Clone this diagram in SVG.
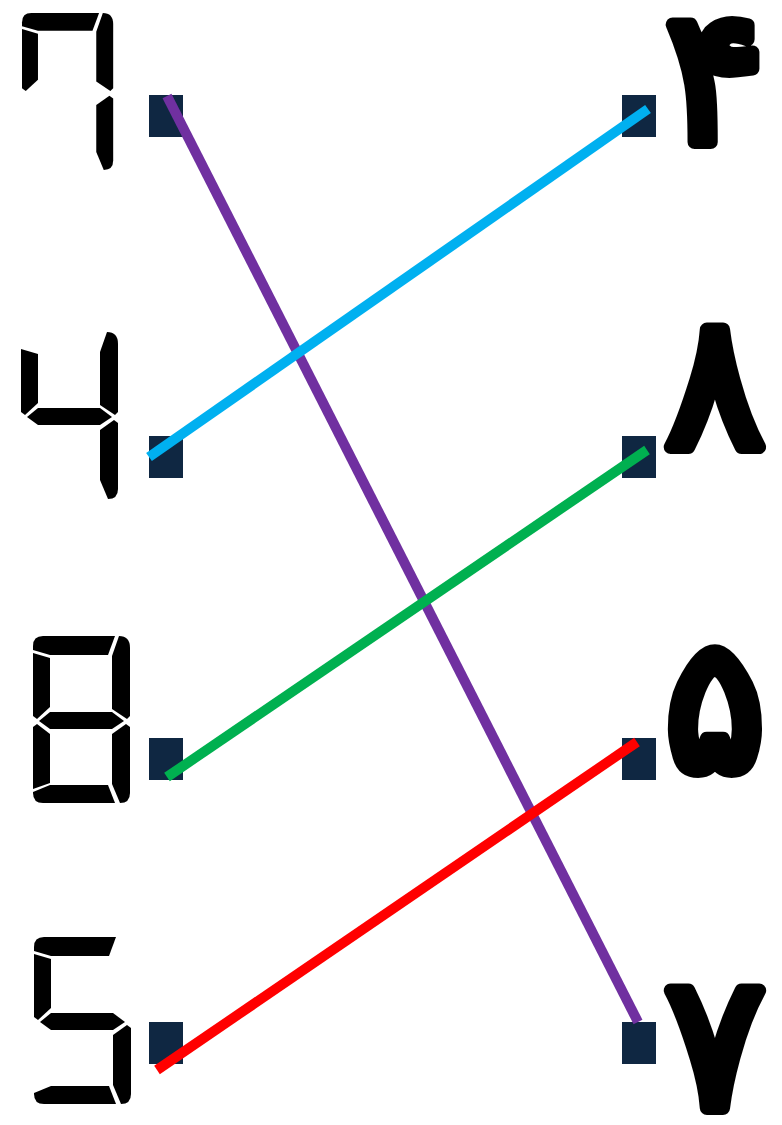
<svg xmlns="http://www.w3.org/2000/svg" width="782" height="1125" viewBox="0 0 782 1125">
<style>
.seg{fill:#000}
.pt{fill:#0f2742}
.fa{font-family:"DejaVu Sans",sans-serif;font-weight:normal;font-size:185px;fill:#000;stroke:#000;stroke-width:14;stroke-linejoin:round;stroke-linecap:round;text-anchor:middle}
.ln{stroke-width:10;fill:none}
</style>
<defs>
<path id="sa" d="M0,14 L0,10 Q0,0 10,0 L82,0 L75,19 L17,19 Z"/>
<path id="sb" d="M86,0 Q97,0 97,12 L97,80 L94,83 L79,73 L79,20 Z"/>
<path id="sf" d="M0,17 L17,22 L17,71 L4,83 L0,80 Z"/>
<path id="sg" d="M6,85 L17,76 L79,76 L91,85 L79,93 L17,93 Z"/>
<path id="se" d="M4,88 L17,98 L17,147 L0,153 L0,91 Z"/>
<path id="sc" d="M93,88 L97,91 L97,157 Q97,167 87,167 L79,148 L79,98 Z"/>
<path id="sd" d="M0,156 L17,149 L75,149 L82,167 L10,167 Q0,167 0,157 Z"/>
</defs>
<rect width="782" height="1125" fill="#fff"/>
<g id="left-7" class="seg" transform="translate(22,13) scale(0.94)">
<use href="#sa"/><use href="#sb"/><use href="#sf"/><use href="#sc"/>
</g>
<g id="left-4" class="seg" transform="translate(21,332)">
<use href="#sf"/><use href="#sg"/><use href="#sb"/><use href="#sc"/>
</g>
<g id="left-8" class="seg" transform="translate(33,636)">
<use href="#sa"/><use href="#sb"/><use href="#sf"/><use href="#sg"/><use href="#se"/><use href="#sc"/><use href="#sd"/>
</g>
<g id="left-5" class="seg" transform="translate(34,937)">
<use href="#sa"/><use href="#sf"/><use href="#sg"/><use href="#sc"/><use href="#sd"/>
</g>
<g id="points">
<rect class="pt" x="149" y="95" width="34" height="42"/>
<rect class="pt" x="149" y="436" width="34" height="42"/>
<rect class="pt" x="149" y="738" width="34" height="42"/>
<rect class="pt" x="149" y="1022" width="34" height="42"/>
<rect class="pt" x="622" y="95" width="34" height="42"/>
<rect class="pt" x="622" y="436" width="34" height="42"/>
<rect class="pt" x="622" y="738" width="34" height="42"/>
<rect class="pt" x="622" y="1022" width="34" height="42"/>
</g>
<g id="right-4"><text class="fa" x="715" y="142">۴</text></g>
<g id="right-8"><text class="fa" x="715" y="447">۸</text></g>
<g id="right-5"><text class="fa" x="715" y="770">۵</text></g>
<g id="right-7"><text class="fa" x="715" y="1108">۷</text></g>
<g id="connectors">
<line class="ln" stroke="#7030a0" x1="167" y1="96" x2="638" y2="1022"/>
<line class="ln" stroke="#00b0f0" x1="149" y1="457" x2="648" y2="109"/>
<line class="ln" stroke="#00b050" x1="167" y1="777" x2="647" y2="450"/>
<line class="ln" stroke="#ff0000" x1="157" y1="1070" x2="637" y2="742"/>
</g>
</svg>
